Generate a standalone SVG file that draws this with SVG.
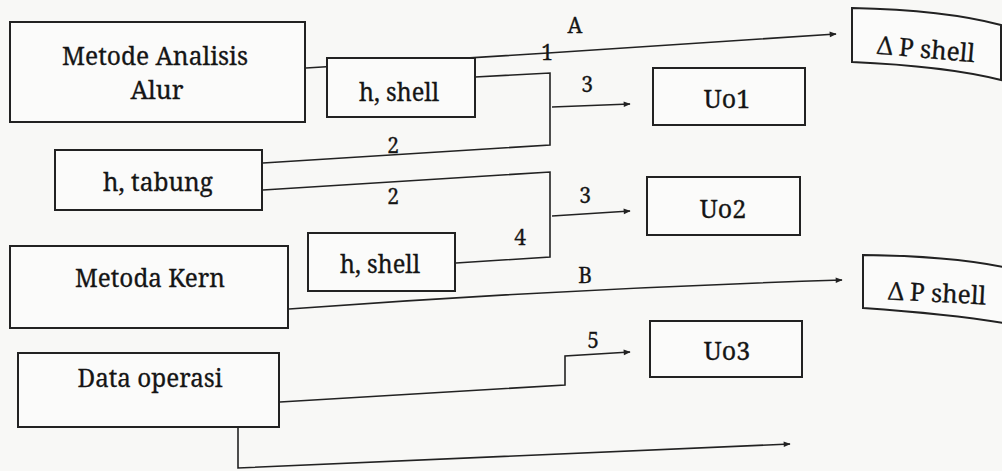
<svg xmlns="http://www.w3.org/2000/svg" width="1002" height="471" viewBox="0 0 1002 471">
  <style>
    .box { fill: #fbfbfa; stroke: #222; stroke-width: 2; }
    .wire { fill: none; stroke: #222; stroke-width: 1.6; }
    .t { font-family: "Noto Serif", "Liberation Serif", serif; font-size: 25px; fill: #151515; stroke: #151515; stroke-width: 0.3; text-anchor: middle; }
    .lbl { font-family: "Noto Serif", "Liberation Serif", serif; font-size: 21px; fill: #151515; stroke: #151515; stroke-width: 0.3; text-anchor: middle; }
  </style>
  <defs>
    <marker id="arrow" viewBox="0 0 10 10" refX="9" refY="5" markerWidth="8" markerHeight="7" markerUnits="userSpaceOnUse" orient="auto">
      <path d="M0,1 L10,5 L0,9 Z" fill="#222"/>
    </marker>
  </defs>
  <rect width="1002" height="471" fill="#f8f8f6"/>

  <!-- connectors -->
  <g id="connectors">
    <path class="wire" d="M306,68 L548,53 L836,34" marker-end="url(#arrow)"/>
    <path class="wire" d="M475,77 L550,73 L550,145 L263,163"/>
    <path class="wire" d="M552,107 L630,104" marker-end="url(#arrow)"/>
    <path class="wire" d="M263,190 L550,172 L550,257 L456,263"/>
    <path class="wire" d="M552,216 L630,211" marker-end="url(#arrow)"/>
    <path class="wire" d="M289,309 Q560,289 842,280" marker-end="url(#arrow)"/>
    <path class="wire" d="M280,402 L565,385 L565,356 L630,352" marker-end="url(#arrow)"/>
    <path class="wire" d="M238,427 L238,468 L790,444" marker-end="url(#arrow)"/>
    <text class="lbl" x="575" y="33">A</text>
    <text class="lbl" x="547" y="60">1</text>
    <text class="lbl" x="393" y="153">2</text>
    <text class="lbl" x="393" y="204">2</text>
    <text class="lbl" x="587" y="92">3</text>
    <text class="lbl" x="585" y="203">3</text>
    <text class="lbl" x="520" y="245">4</text>
    <text class="lbl" x="585" y="283">B</text>
    <text class="lbl" x="593" y="348">5</text>
  </g>

  <g id="metode-analisis-alur">
    <rect class="box" x="10" y="22" width="295" height="100"/>
    <text class="t" x="155" y="65" textLength="186" lengthAdjust="spacingAndGlyphs">Metode Analisis</text>
    <text class="t" x="157" y="99">Alur</text>
  </g>
  <g id="h-shell-1">
    <rect class="box" x="327" y="58" width="148" height="59"/>
    <text class="t" x="399" y="101" textLength="80" lengthAdjust="spacingAndGlyphs">h, shell</text>
  </g>
  <g id="h-tabung">
    <rect class="box" x="55" y="150" width="207" height="60"/>
    <text class="t" x="158" y="191" textLength="110" lengthAdjust="spacingAndGlyphs">h, tabung</text>
  </g>
  <g id="h-shell-2">
    <rect class="box" x="308" y="233" width="147" height="58"/>
    <text class="t" x="380" y="273" textLength="80" lengthAdjust="spacingAndGlyphs">h, shell</text>
  </g>
  <g id="metoda-kern">
    <rect class="box" x="10" y="246" width="278" height="82"/>
    <text class="t" x="150" y="287" textLength="150" lengthAdjust="spacingAndGlyphs">Metoda Kern</text>
  </g>
  <g id="data-operasi">
    <rect class="box" x="18" y="353" width="261" height="74"/>
    <text class="t" x="150" y="387" textLength="145" lengthAdjust="spacingAndGlyphs">Data operasi</text>
  </g>
  <g id="uo1">
    <rect class="box" x="653" y="68" width="152" height="57"/>
    <text class="t" x="727" y="108">Uo1</text>
  </g>
  <g id="uo2">
    <rect class="box" x="647" y="177" width="153" height="58"/>
    <text class="t" x="723" y="218">Uo2</text>
  </g>
  <g id="uo3">
    <rect class="box" x="650" y="321" width="152" height="56"/>
    <text class="t" x="727" y="360">Uo3</text>
  </g>
  <g id="dp-shell-a">
    <path class="box" d="M852,8 Q945,10 1001,25 L1001,80 Q945,66 852,62 Z"/>
    <text class="t" x="926" y="58" font-size="23" textLength="98" lengthAdjust="spacingAndGlyphs" transform="rotate(5 926 50)">Δ P shell</text>
  </g>
  <g id="dp-shell-b">
    <path class="box" d="M863,255 Q950,256 1003,267 L1003,323 Q950,314 863,308 Z"/>
    <text class="t" x="937" y="302" font-size="23" textLength="98" lengthAdjust="spacingAndGlyphs" transform="rotate(3 937 295)">Δ P shell</text>
  </g>
</svg>
